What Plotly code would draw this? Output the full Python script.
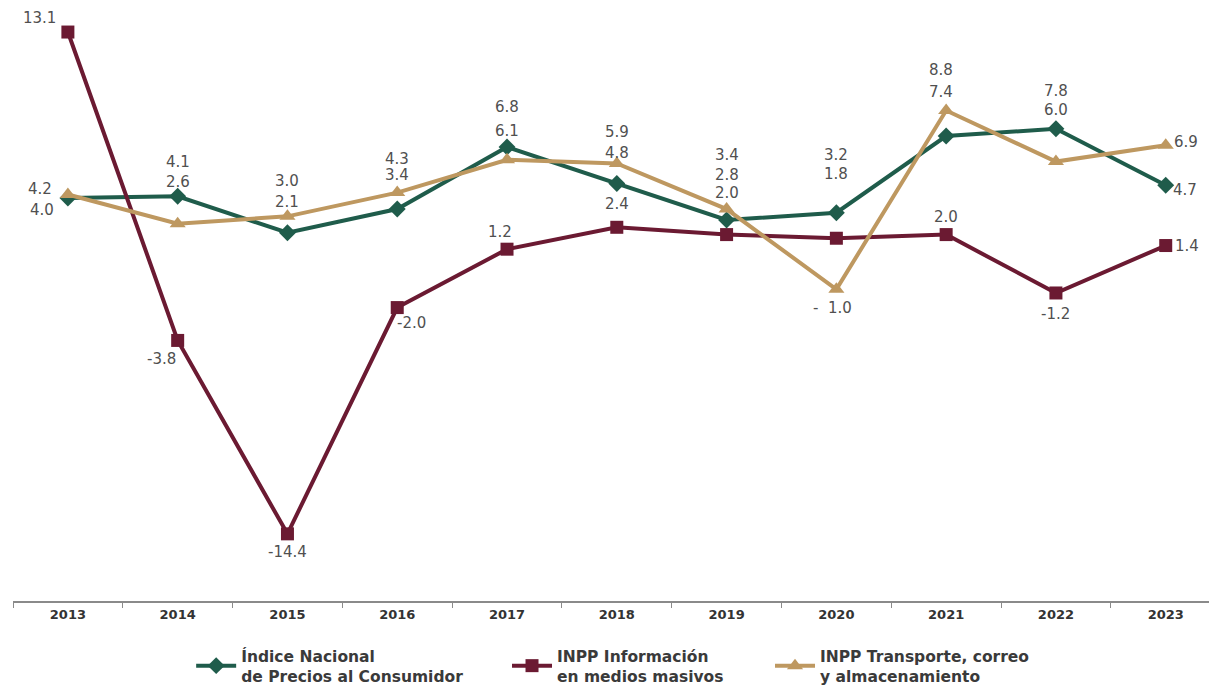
import plotly.graph_objects as go

years = ["2013", "2014", "2015", "2016", "2017", "2018", "2019", "2020", "2021", "2022", "2023"]
inpc = [4.0, 4.1, 2.1, 3.4, 6.8, 4.8, 2.8, 3.2, 7.4, 7.8, 4.7]
inpp_info = [13.1, -3.8, -14.4, -2.0, 1.2, 2.4, 2.0, 1.8, 2.0, -1.2, 1.4]
inpp_trans = [4.2, 2.6, 3.0, 4.3, 6.1, 5.9, 3.4, -1.0, 8.8, 6.0, 6.9]

names = ["Índice Nacional<br>de Precios al Consumidor",
         "INPP Información<br>en medios masivos",
         "INPP Transporte, correo<br>y almacenamiento"]

# label offsets in pixels (dx, dy up positive) relative to each point
inpc_off = [(-26, -12), (0, 34), (0, 31), (0, 34), (0, 40), (0, 31), (0, 45), (0, 58), (-5, 44), (0, 38), (19, -5)]
info_off = [(-28, 14), (-16, -19), (0, -18), (14, -15), (-7, 17), (0, 23), (0, 42), (0, 64), (0, 18), (0, -21), (21, 0)]
trans_off = [(-28, 5), (0, 42), (0, 35), (0, 34), (0, 29), (0, 31), (0, 54), (-4, -19), (-5, 41), (0, 52), (20, 3)]
text_override = {("trans", 7): "-  1.0"}
legend_x = [0.147, 0.4076, 0.6246]

GREEN = "#1f5c4b"
RED = "#6b1a32"
GOLD = "#be9860"
LBL_FONT = "DejaVu Sans, sans-serif"
BOLD_FONT = "DejaVu Sans, sans-serif"

fig = go.Figure()
series = [
    ("inpc", inpc, GREEN, "diamond", 13, inpc_off, names[0]),
    ("info", inpp_info, RED, "square", 13, info_off, names[1]),
    ("trans", inpp_trans, GOLD, "triangle-up", 14, trans_off, names[2]),
]
legend_ids = ["legend", "legend2", "legend3"]
for (key, vals, col, sym, size, off, nm), lid in zip(series, legend_ids):
    fig.add_trace(go.Scatter(
        x=years, y=vals, mode="lines+markers", name=nm,
        line=dict(color=col, width=4),
        marker=dict(symbol=sym, size=size, color=col),
        legend=lid,
    ))

for key, vals, col, sym, size, off, nm in series:
    for i, v in enumerate(vals):
        dx, dy = off[i]
        txt = text_override.get((key, i), f"{v:.1f}")
        fig.add_annotation(
            x=i, y=v, xref="x", yref="y", text=txt, showarrow=False,
            xshift=dx, yshift=dy,
            xanchor="center", yanchor="middle",
            font=dict(family=LBL_FONT, size=15, color="#505050"),
        )

leg_common = dict(
    orientation="h", xanchor="left", y=-0.066, yanchor="top",
    font=dict(family=BOLD_FONT, size=15.5, color="#3a3a3a", weight="bold"),
    itemwidth=40, bgcolor="rgba(0,0,0,0)",
)

fig.update_layout(
    width=1217, height=685,
    margin=dict(l=5, r=0, t=12, b=92),
    paper_bgcolor="white", plot_bgcolor="white",
    showlegend=True,
    legend=dict(x=legend_x[0], **leg_common),
    legend2=dict(x=legend_x[1], **leg_common),
    legend3=dict(x=legend_x[2], **leg_common),
    xaxis=dict(
        type="category", range=[-0.5, 10.54],
        showline=True, linecolor="#8a8a8a", linewidth=1.5,
        ticks="outside", tickson="boundaries", ticklen=5, tickcolor="#8a8a8a",
        ticklabelstandoff=1,
        showgrid=False, zeroline=False,
        tickfont=dict(family=BOLD_FONT, size=13, color="#333333", weight="bold"),
    ),
    yaxis=dict(
        range=[-18.08, 13.76], showticklabels=False, showline=False,
        showgrid=False, zeroline=False, ticks="",
    ),
)

fig.write_html("out.html")
